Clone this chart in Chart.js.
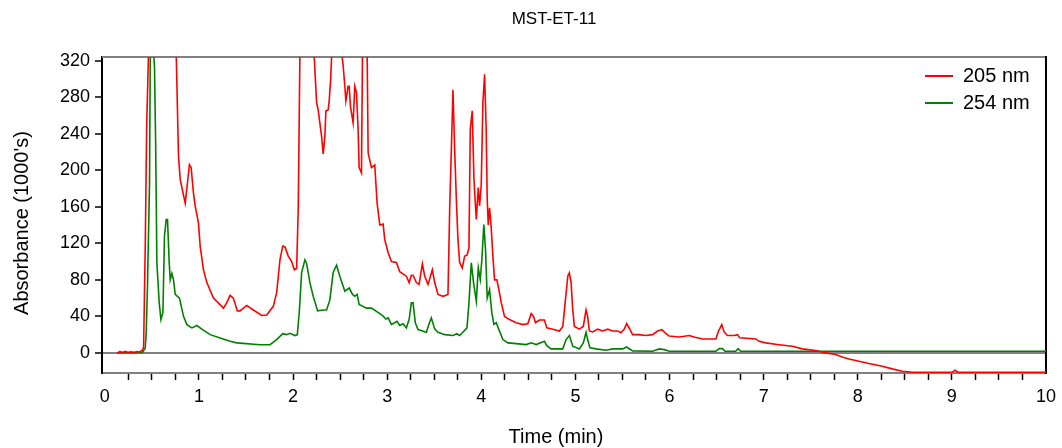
<!DOCTYPE html>
<html><head><meta charset="utf-8">
<script src="https://cdn.jsdelivr.net/npm/chart.js@4/dist/chart.umd.min.js"></script>
<style>html,body{margin:0;padding:0;background:#fff;}</style>
</head><body>
<canvas id="c" width="1062" height="448"></canvas>
<script>
const chartTitle = 'MST-ET-11';
const xTitle = 'Time (min)';
const yTitle = "Absorbance (1000's)";
const seriesNames = ['205 nm', '254 nm'];
const seriesColors = ['#ff0000', '#008000'];
const xTickLabels = [0,1,2,3,4,5,6,7,8,9,10];
const yTickLabels = [0,40,80,120,160,200,240,280,320];

const time205 = [0.13,0.16,0.19,0.22,0.25,0.28,0.31,0.34,0.37,0.40,0.412,0.43,0.445,0.465,0.55,0.70,0.758,0.783,0.801,0.854,0.878,0.899,0.917,0.942,0.960,0.995,1.013,1.048,1.084,1.154,1.260,1.296,1.331,1.366,1.408,1.437,1.508,1.578,1.667,1.720,1.790,1.826,1.861,1.890,1.914,1.949,1.985,2.013,2.038,2.055,2.073,2.12,2.18,2.222,2.250,2.267,2.303,2.320,2.338,2.349,2.373,2.384,2.399,2.412,2.46,2.515,2.532,2.550,2.561,2.585,2.596,2.610,2.638,2.656,2.674,2.691,2.702,2.727,2.738,2.76,2.787,2.798,2.833,2.868,2.893,2.922,2.957,2.974,3.010,3.045,3.098,3.133,3.204,3.233,3.257,3.275,3.310,3.339,3.374,3.399,3.434,3.480,3.505,3.540,3.593,3.646,3.664,3.682,3.699,3.717,3.735,3.752,3.770,3.798,3.823,3.848,3.869,3.883,3.904,3.922,3.947,3.968,3.982,3.999,4.017,4.035,4.052,4.063,4.074,4.088,4.105,4.123,4.141,4.166,4.187,4.212,4.247,4.300,4.371,4.442,4.494,4.530,4.555,4.576,4.618,4.671,4.696,4.760,4.830,4.866,4.894,4.919,4.936,4.954,4.972,4.989,5.042,5.084,5.113,5.130,5.148,5.183,5.236,5.289,5.343,5.396,5.449,5.484,5.520,5.544,5.572,5.608,5.678,5.749,5.820,5.873,5.919,5.954,5.997,6.050,6.103,6.209,6.262,6.350,6.492,6.520,6.555,6.580,6.615,6.686,6.722,6.746,6.916,6.952,7.022,7.164,7.305,7.411,7.553,7.659,7.765,7.836,7.906,8.013,8.119,8.260,8.366,8.473,8.579,9.003,9.031,9.067,10.0];
const abs205 = [0,1.5,0.5,1.8,0.3,1.2,0.5,1.5,1.0,3,6,120,250,330,400,400,330,215,190,164,186,206,203,175,161,142,117,91,77,60,49,55,63,60,46,46,52,47,41,41.5,51,66,102,117,116,106,100,91,92.5,157,330,400,400,330,274,266,237,218,237,265,266,276,299,330,400,330,315,292,276,292,292,270,252,292,285,245,203,197,330,400,330,219,203,206,164,140,141,124,110,100,99,89,84,77,85,85,77,75,97.5,84,75,91,77,64,62,64,157,223,288,223,168,124,99,93,106,107,115,245,265,190,146,181,161,183,274,305,245,168,140,159,138,106,80,80,69,55,40,36.5,33,31,32,43,40,33,36,36,27.4,26,24,29,58,84,87.6,77,47,29,26,29,47,40,24,23,26,24,26,24,24,22,26,32,27,20,20,19,20,24,25.5,22,18.5,18,17.5,19,17.5,15.3,15.3,23.7,31,23,19,19,20,16.5,15.3,12.7,11,9,7.3,4.4,2.6,0,-1.8,-4.4,-6.6,-9.1,-11.7,-14.6,-17.5,-20,-21.2,-21.2,-19,-21.2,-21.2];

const time254 = [0.13,0.2,0.3,0.40,0.429,0.44,0.454,0.475,0.483,0.50,0.518,0.528,0.540,0.553,0.578,0.596,0.617,0.634,0.652,0.666,0.684,0.695,0.712,0.730,0.748,0.793,0.836,0.872,0.925,0.978,1.031,1.119,1.225,1.331,1.402,1.649,1.755,1.826,1.890,1.932,1.967,2.020,2.045,2.066,2.091,2.126,2.144,2.179,2.214,2.261,2.320,2.356,2.391,2.426,2.462,2.497,2.550,2.596,2.632,2.656,2.681,2.702,2.780,2.833,2.922,2.957,2.985,3.010,3.045,3.080,3.104,3.133,3.169,3.204,3.233,3.257,3.275,3.299,3.328,3.416,3.451,3.469,3.505,3.540,3.611,3.699,3.741,3.770,3.804,3.848,3.869,3.894,3.918,3.947,3.968,3.989,4.006,4.027,4.045,4.063,4.088,4.112,4.134,4.159,4.187,4.230,4.283,4.371,4.477,4.530,4.583,4.671,4.696,4.742,4.866,4.901,4.936,4.972,5.042,5.084,5.113,5.130,5.155,5.219,5.325,5.396,5.502,5.544,5.608,5.820,5.891,5.944,5.997,6.492,6.527,6.562,6.590,6.703,6.728,6.756,10.0];
const abs254 = [0,0.3,0.3,0.5,5,22,77,186,330,400,330,312,230,99,55,36.5,44,128,146,146,99,80,87,80,64,60,40,31,27.4,30,26,20,16.4,12.7,11,9,9,14.6,21,20,21.5,19,20,44,88,102,98,77,62,46,47,47,58,88,96,84,67.5,71,64,62,64,53,49,49,43,40.4,37,38.3,31.2,33,34.6,30,32,27.4,36.5,54.8,54.8,33,25.5,22.6,33.5,38.3,26.3,22.6,20,19,21,19,22.6,27.4,54.8,98.6,76.7,56.5,93.1,80.3,102,140.5,113,60,69.3,43.8,31.2,33,25.5,14.6,11,10.2,9.1,11,9.1,12.7,8,4.4,4.4,14.6,19,7.3,4.4,11,22.6,14.6,5.5,4.4,2.9,4.4,4.4,6.5,2.2,1.8,4.4,3.6,1.8,1.8,4.7,4.7,1.8,1.8,4.7,1.8,1.8];

const FONT = "'Liberation Sans', Arial, Helvetica, sans-serif";

const framePlugin = {
  id: 'frame',
  beforeDatasetsDraw(chart) {
    const {ctx, chartArea: a} = chart;
    ctx.save();
    ctx.lineWidth = 2;
    ctx.strokeStyle = '#808080';
    ctx.beginPath(); ctx.moveTo(a.left, a.top); ctx.lineTo(a.right, a.top); ctx.stroke();
    ctx.strokeStyle = '#000';
    ctx.beginPath(); ctx.moveTo(a.right, a.top - 1); ctx.lineTo(a.right, a.bottom + 1); ctx.stroke();
    ctx.restore();
  },
  afterDraw(chart) {
    const {ctx} = chart;
    ctx.save();
    ctx.fillStyle = '#000';
    ctx.textAlign = 'center';
    ctx.textBaseline = 'middle';
    ctx.font = '17px ' + FONT;
    ctx.fillText(chartTitle, 554, 19);
    ctx.font = '20px ' + FONT;
    ctx.fillText(xTitle, 556, 437);
    ctx.save();
    ctx.translate(22, 223);
    ctx.rotate(-Math.PI / 2);
    ctx.fillText(yTitle, 0, 0);
    ctx.restore();
    // legend
    ctx.font = '20px ' + FONT;
    ctx.textAlign = 'left';
    chart.data.datasets.forEach((ds, i) => {
      const y = 76 + i * 27;
      ctx.strokeStyle = ds.borderColor;
      ctx.lineWidth = 2;
      ctx.beginPath(); ctx.moveTo(925, y); ctx.lineTo(953, y); ctx.stroke();
      ctx.fillStyle = '#000';
      ctx.fillText(ds.label, 963, y);
    });
    ctx.restore();
  }
};

const mk = (ts, vs) => ts.map((t, i) => ({x: t, y: vs[i]}));

new Chart(document.getElementById('c'), {
  type: 'line',
  data: {
    datasets: [
      {label: seriesNames[0], data: mk(time205, abs205), borderColor: seriesColors[0], borderWidth: 1.6, pointRadius: 0, tension: 0, fill: false},
      {label: seriesNames[1], data: mk(time254, abs254), borderColor: seriesColors[1], borderWidth: 1.6, pointRadius: 0, tension: 0, fill: false}
    ]
  },
  options: {
    responsive: false,
    animation: false,
    layout: {padding: {left: 0, right: 14, top: 57, bottom: 0}},
    plugins: {legend: {display: false}, title: {display: false}, tooltip: {enabled: false}},
    scales: {
      x: {
        type: 'linear', min: -0.03, max: 10,
        afterBuildTicks: s => { const t = []; for (let i = 0; i <= 40; i++) t.push({value: i * 0.25}); s.ticks = t; },
        ticks: {autoSkip: false, maxRotation: 0, minRotation: 0, padding: 6, color: '#000', font: {family: FONT, size: 18},
          callback: v => xTickLabels.includes(v) ? String(v) : ''},
        grid: {drawOnChartArea: false, drawTicks: true, tickLength: 7, tickWidth: 1.5,
          tickColor: c => (c.tick && (c.tick.value === 0 || c.tick.value === 10)) ? 'rgba(0,0,0,0)' : '#000'},
        border: {display: true, color: '#808080', width: 2},
        afterFit: s => { s.height = 75; }
      },
      y: {
        min: -22, max: 324,
        afterBuildTicks: s => { s.ticks = yTickLabels.map(v => ({value: v})); },
        ticks: {padding: 5, color: '#000', font: {family: FONT, size: 18}},
        grid: {drawOnChartArea: true, lineWidth: 2, drawTicks: true, tickLength: 7, tickWidth: 1.5, tickColor: '#000',
          color: c => (c.tick && c.tick.value === 0) ? '#808080' : 'rgba(0,0,0,0)'},
        border: {display: true, color: '#000', width: 2},
        afterFit: s => { s.width = 102; }
      }
    }
  },
  plugins: [framePlugin]
});
</script>
</body></html>
